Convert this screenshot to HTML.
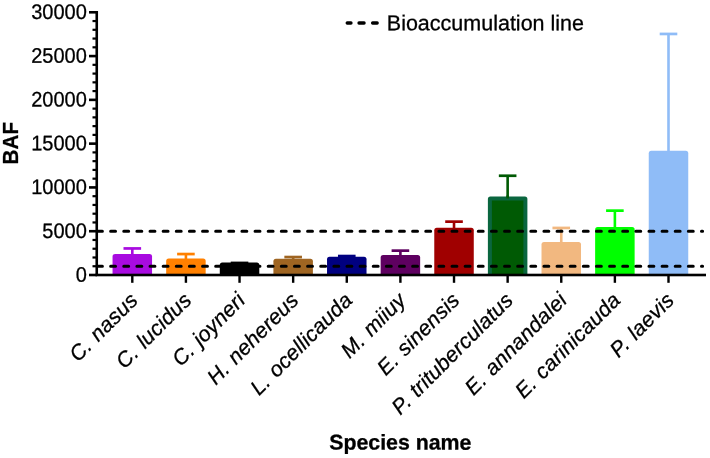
<!DOCTYPE html>
<html><head><meta charset="utf-8"><title>BAF</title>
<style>
html,body{margin:0;padding:0;background:#fff;}
body{width:710px;height:458px;overflow:hidden;font-family:"Liberation Sans",sans-serif;}
svg{display:block;will-change:transform;}
text{font-family:"Liberation Sans",sans-serif;fill:#000;stroke:#000;stroke-width:0.3px;stroke-linejoin:round;}
</style></head><body>
<svg width="710" height="458" viewBox="0 0 710 458">
<rect width="710" height="458" fill="#fff"/>

<rect x="131.00" y="248.40" width="2.6" height="6.90" fill="#a80be0"/>
<rect x="123.50" y="247.10" width="17.6" height="2.7" fill="#a80be0"/>
<path d="M112.55 275.00V256.50Q112.55 254.00 115.05 254.00H149.55Q152.05 254.00 152.05 256.50V275.00Z" fill="#a80be0"/>
<rect x="184.62" y="254.00" width="2.6" height="5.90" fill="#ff8000"/>
<rect x="177.12" y="252.70" width="17.6" height="2.7" fill="#ff8000"/>
<path d="M166.17 275.00V261.10Q166.17 258.60 168.67 258.60H203.17Q205.67 258.60 205.67 261.10V275.00Z" fill="#ff8000"/>
<rect x="238.24" y="262.90" width="2.6" height="1.00" fill="#000000"/>
<rect x="230.74" y="261.60" width="17.6" height="2.7" fill="#000000"/>
<path d="M219.79 275.00V265.10Q219.79 262.60 222.29 262.60H256.79Q259.29 262.60 259.29 265.10V275.00Z" fill="#000000"/>
<rect x="291.86" y="257.00" width="2.6" height="3.10" fill="#9f6522"/>
<rect x="284.36" y="255.70" width="17.6" height="2.7" fill="#9f6522"/>
<path d="M273.41 275.00V261.30Q273.41 258.80 275.91 258.80H310.41Q312.91 258.80 312.91 261.30V275.00Z" fill="#9f6522"/>
<rect x="345.48" y="256.00" width="2.6" height="2.10" fill="#000080"/>
<rect x="337.98" y="254.70" width="17.6" height="2.7" fill="#000080"/>
<path d="M327.03 275.00V259.30Q327.03 256.80 329.53 256.80H364.03Q366.53 256.80 366.53 259.30V275.00Z" fill="#000080"/>
<rect x="399.10" y="250.60" width="2.6" height="5.80" fill="#5e0060"/>
<rect x="391.60" y="249.30" width="17.6" height="2.7" fill="#5e0060"/>
<path d="M380.65 275.00V257.60Q380.65 255.10 383.15 255.10H417.65Q420.15 255.10 420.15 257.60V275.00Z" fill="#5e0060"/>
<rect x="452.72" y="221.60" width="2.6" height="7.50" fill="#a00000"/>
<rect x="445.22" y="220.30" width="17.6" height="2.7" fill="#a00000"/>
<path d="M434.27 275.00V230.30Q434.27 227.80 436.77 227.80H471.27Q473.77 227.80 473.77 230.30V275.00Z" fill="#a00000"/>
<rect x="506.34" y="175.70" width="2.6" height="22.10" fill="#005a04"/>
<rect x="498.84" y="174.40" width="17.6" height="2.7" fill="#005a04"/>
<path d="M487.89 275.00V199.00Q487.89 196.50 490.39 196.50H524.89Q527.39 196.50 527.39 199.00V275.00Z" fill="#0a663f"/>
<rect x="491.89" y="200.50" width="31.50" height="74.50" fill="#005a04"/>
<rect x="506.34" y="195.50" width="2.6" height="3" fill="#005a04"/>
<rect x="559.96" y="227.90" width="2.6" height="15.50" fill="#f2b880"/>
<rect x="552.46" y="226.60" width="17.6" height="2.7" fill="#f2b880"/>
<path d="M541.51 275.00V244.60Q541.51 242.10 544.01 242.10H578.51Q581.01 242.10 581.01 244.60V275.00Z" fill="#f2b880"/>
<rect x="613.58" y="210.60" width="2.6" height="17.60" fill="#00ff00"/>
<rect x="606.08" y="209.30" width="17.6" height="2.7" fill="#00ff00"/>
<path d="M595.13 275.00V229.40Q595.13 226.90 597.63 226.90H632.13Q634.63 226.90 634.63 229.40V275.00Z" fill="#00ff00"/>
<rect x="667.20" y="33.90" width="2.6" height="118.20" fill="#8fbcf7"/>
<rect x="659.70" y="32.60" width="17.6" height="2.7" fill="#8fbcf7"/>
<path d="M648.75 275.00V153.30Q648.75 150.80 651.25 150.80H685.75Q688.25 150.80 688.25 153.30V275.00Z" fill="#8fbcf7"/>
<line x1="97.5" y1="231.22" x2="702.6" y2="231.22" stroke="#000" stroke-width="3" stroke-linecap="round" stroke-dasharray="4.9 8.23"/>
<line x1="97.5" y1="266.24" x2="702.6" y2="266.24" stroke="#000" stroke-width="3" stroke-linecap="round" stroke-dasharray="4.9 8.23"/>
<rect x="95.45" y="11" width="2.6" height="265.00" fill="#000"/>
<rect x="95.45" y="273.70" width="610.55" height="2.6" fill="#000"/>
<rect x="89" y="273.70" width="8" height="2.6" fill="#000"/>
<rect x="92.5" y="265.14" width="4" height="2.2" fill="#000"/>
<rect x="92.5" y="256.39" width="4" height="2.2" fill="#000"/>
<rect x="92.5" y="247.63" width="4" height="2.2" fill="#000"/>
<rect x="92.5" y="238.87" width="4" height="2.2" fill="#000"/>
<rect x="89" y="229.91" width="8" height="2.6" fill="#000"/>
<rect x="92.5" y="221.36" width="4" height="2.2" fill="#000"/>
<rect x="92.5" y="212.60" width="4" height="2.2" fill="#000"/>
<rect x="92.5" y="203.84" width="4" height="2.2" fill="#000"/>
<rect x="92.5" y="195.09" width="4" height="2.2" fill="#000"/>
<rect x="89" y="186.13" width="8" height="2.6" fill="#000"/>
<rect x="92.5" y="177.57" width="4" height="2.2" fill="#000"/>
<rect x="92.5" y="168.82" width="4" height="2.2" fill="#000"/>
<rect x="92.5" y="160.06" width="4" height="2.2" fill="#000"/>
<rect x="92.5" y="151.30" width="4" height="2.2" fill="#000"/>
<rect x="89" y="142.34" width="8" height="2.6" fill="#000"/>
<rect x="92.5" y="133.79" width="4" height="2.2" fill="#000"/>
<rect x="92.5" y="125.03" width="4" height="2.2" fill="#000"/>
<rect x="92.5" y="116.27" width="4" height="2.2" fill="#000"/>
<rect x="92.5" y="107.52" width="4" height="2.2" fill="#000"/>
<rect x="89" y="98.56" width="8" height="2.6" fill="#000"/>
<rect x="92.5" y="90.00" width="4" height="2.2" fill="#000"/>
<rect x="92.5" y="81.25" width="4" height="2.2" fill="#000"/>
<rect x="92.5" y="72.49" width="4" height="2.2" fill="#000"/>
<rect x="92.5" y="63.73" width="4" height="2.2" fill="#000"/>
<rect x="89" y="54.78" width="8" height="2.6" fill="#000"/>
<rect x="92.5" y="46.22" width="4" height="2.2" fill="#000"/>
<rect x="92.5" y="37.46" width="4" height="2.2" fill="#000"/>
<rect x="92.5" y="28.70" width="4" height="2.2" fill="#000"/>
<rect x="92.5" y="19.95" width="4" height="2.2" fill="#000"/>
<rect x="89" y="10.99" width="8" height="2.6" fill="#000"/>
<rect x="131.10" y="275.00" width="2.4" height="7.8" fill="#000"/>
<rect x="184.72" y="275.00" width="2.4" height="7.8" fill="#000"/>
<rect x="238.34" y="275.00" width="2.4" height="7.8" fill="#000"/>
<rect x="291.96" y="275.00" width="2.4" height="7.8" fill="#000"/>
<rect x="345.58" y="275.00" width="2.4" height="7.8" fill="#000"/>
<rect x="399.20" y="275.00" width="2.4" height="7.8" fill="#000"/>
<rect x="452.82" y="275.00" width="2.4" height="7.8" fill="#000"/>
<rect x="506.44" y="275.00" width="2.4" height="7.8" fill="#000"/>
<rect x="560.06" y="275.00" width="2.4" height="7.8" fill="#000"/>
<rect x="613.68" y="275.00" width="2.4" height="7.8" fill="#000"/>
<rect x="667.30" y="275.00" width="2.4" height="7.8" fill="#000"/>
<text transform="translate(86.80,281.70) rotate(0.03) scale(0.952,1)" font-size="21" text-anchor="end" >0</text>
<text transform="translate(86.80,237.91) rotate(0.03) scale(0.952,1)" font-size="21" text-anchor="end" >5000</text>
<text transform="translate(86.80,194.13) rotate(0.03) scale(0.952,1)" font-size="21" text-anchor="end" >10000</text>
<text transform="translate(86.80,150.34) rotate(0.03) scale(0.952,1)" font-size="21" text-anchor="end" >15000</text>
<text transform="translate(86.80,106.56) rotate(0.03) scale(0.952,1)" font-size="21" text-anchor="end" >20000</text>
<text transform="translate(86.80,62.78) rotate(0.03) scale(0.952,1)" font-size="21" text-anchor="end" >25000</text>
<text transform="translate(86.80,18.99) rotate(0.03) scale(0.952,1)" font-size="21" text-anchor="end" >30000</text>
<text transform="translate(18.40,143.20) rotate(-90) scale(0.93,1)" font-size="22.2" text-anchor="middle" font-weight="bold">BAF</text>
<text transform="translate(400.30,449.60) rotate(0.03)" font-size="21.33" text-anchor="middle" font-weight="bold">Species name</text>
<path d="M347.2 23H351M359 23H364.1M372.6 23H377.2" fill="none" stroke="#000" stroke-width="3.3" stroke-linecap="round"/>
<text transform="translate(386.80,30.20) rotate(0.03)" font-size="21.5" text-anchor="start" >Bioaccumulation line</text>
<text transform="translate(139.20,301.50) rotate(-45)" font-size="21.33" text-anchor="end" font-style="italic" letter-spacing="0.2" word-spacing="0.8">C. nasus</text>
<text transform="translate(192.82,301.50) rotate(-45)" font-size="21.33" text-anchor="end" font-style="italic" letter-spacing="0.2" word-spacing="0.8">C. lucidus</text>
<text transform="translate(246.44,301.50) rotate(-45)" font-size="21.33" text-anchor="end" font-style="italic" letter-spacing="0.2" word-spacing="0.8">C. joyneri</text>
<text transform="translate(300.06,301.50) rotate(-45)" font-size="21.33" text-anchor="end" font-style="italic" letter-spacing="0.2" word-spacing="0.8">H. nehereus</text>
<text transform="translate(353.68,301.50) rotate(-45)" font-size="21.33" text-anchor="end" font-style="italic" letter-spacing="0.2" word-spacing="0.8">L. ocellicauda</text>
<text transform="translate(407.30,301.50) rotate(-45)" font-size="21.33" text-anchor="end" font-style="italic" letter-spacing="0.2" word-spacing="0.8">M. miiuy</text>
<text transform="translate(460.92,301.50) rotate(-45)" font-size="21.33" text-anchor="end" font-style="italic" letter-spacing="0.2" word-spacing="0.8">E. sinensis</text>
<text transform="translate(514.54,301.50) rotate(-45)" font-size="21.33" text-anchor="end" font-style="italic" letter-spacing="0.2" word-spacing="0.8">P. trituberculatus</text>
<text transform="translate(568.16,301.50) rotate(-45)" font-size="21.33" text-anchor="end" font-style="italic" letter-spacing="0.2" word-spacing="0.8">E. annandalei</text>
<text transform="translate(621.78,301.50) rotate(-45)" font-size="21.33" text-anchor="end" font-style="italic" letter-spacing="0.2" word-spacing="0.8">E. carinicauda</text>
<text transform="translate(675.40,301.50) rotate(-45)" font-size="21.33" text-anchor="end" font-style="italic" letter-spacing="0.2" word-spacing="0.8">P. laevis</text>
</svg></body></html>
